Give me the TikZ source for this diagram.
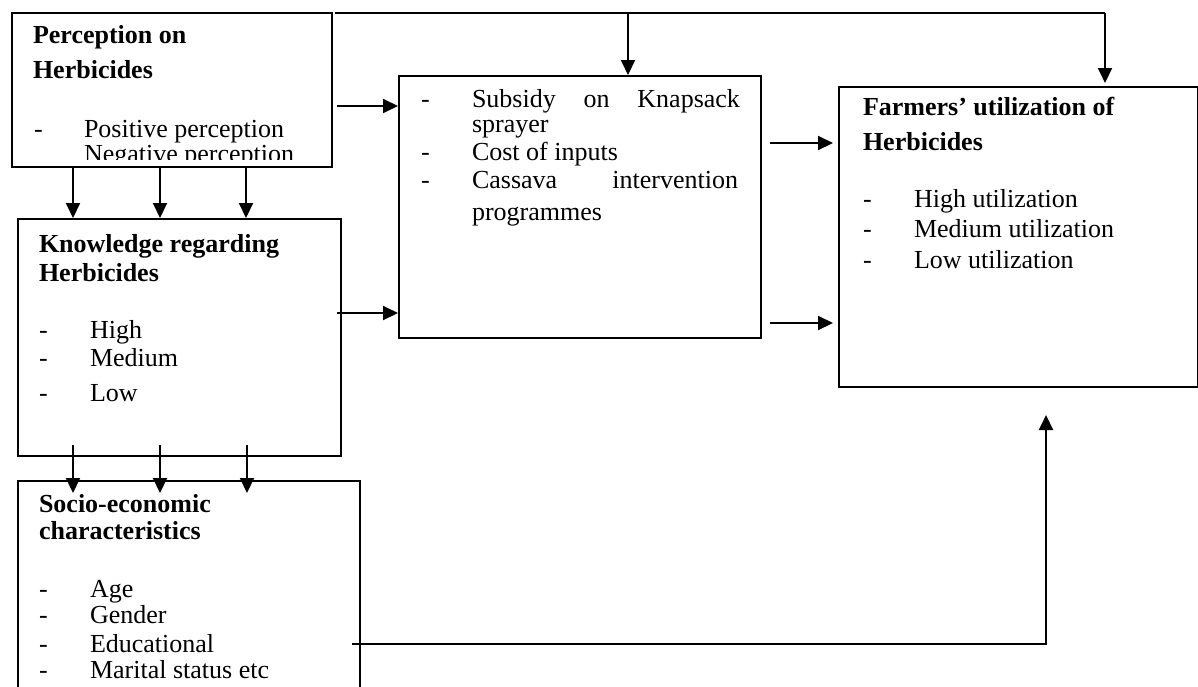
\documentclass[tikz,border=0pt]{standalone}
\usepackage{fontspec}
\setmainfont{Liberation Serif}
\usepackage{tikz}
\usetikzlibrary{arrows.meta,positioning,calc}

\begin{document}
\begin{tikzpicture}[
  x=1pt, y=-1pt,
  font=\fontsize{26}{26}\selectfont,
  >={Triangle[length=15pt,width=14pt]},
  line width=2pt,
  box/.style  = {draw, line width=2pt, inner sep=0pt, anchor=north west},
  hd/.style   = {anchor=base west, inner sep=0pt, font=\fontsize{26}{26}\selectfont\bfseries},
  txt/.style  = {anchor=base west, inner sep=0pt},
  dsh/.style  = {anchor=base west, inner sep=0pt}
]
\useasboundingbox (0,0) rectangle (1198,686);
\clip (0,0) rectangle (1198,686);

% boxes
\node[box, minimum width=320pt, minimum height=154pt] (perc)  at (11,12)  {};
\node[box, minimum width=323pt, minimum height=237pt] (know)  at (17,218) {};
\node[box, minimum width=342pt, minimum height=260pt] (socio) at (17,480) {};
\node[box, minimum width=362pt, minimum height=262pt] (inp)   at (398,75) {};
\node[box, minimum width=359pt, minimum height=300pt] (util)  at (838,86) {};

% perception text (cut off at the bottom)
\begin{scope}
  \clip (perc.north west) rectangle ([yshift=9pt]perc.south east);
  \node[hd] (percH1) at (32,43) {Perception on};
  \node[hd] (percH2) at (32,78) {Herbicides};
  \node[dsh] (percD1) at (33,137) {-};
  \node[txt] (percT1) at (83,137) {Positive perception};
  \node[txt] (percT2) at (83,162) {Negative perception};
\end{scope}

% knowledge text
\node[hd] (knowH1) at (38,252) {Knowledge regarding};
\node[hd] (knowH2) at (38,281) {Herbicides};
\node[dsh] (knowD1) at (38,338) {-};
\node[txt] (knowT1) at (89,338) {High};
\node[dsh] (knowD2) at (38,366) {-};
\node[txt] (knowT2) at (89,366) {Medium};
\node[dsh] (knowD3) at (38,401) {-};
\node[txt] (knowT3) at (89,401) {Low};

% socio-economic text
\node[hd] (socH1) at (38,512) {Socio-economic};
\node[hd] (socH2) at (38,539) {characteristics};
\node[dsh] (socD1) at (38,597) {-};
\node[txt] (socT1) at (89,597) {Age};
\node[dsh] (socD2) at (38,623) {-};
\node[txt] (socT2) at (89,623) {Gender};
\node[dsh] (socD3) at (38,652) {-};
\node[txt] (socT3) at (89,652) {Educational};
\node[dsh] (socD4) at (38,678) {-};
\node[txt] (socT4) at (89,678) {Marital status etc};

% input factors text
\node[dsh] (inpD1) at (420,107) {-};
\node[txt] (inpT1) at (471,107) {\makebox[268pt][s]{Subsidy on Knapsack}};
\node[txt] (inpT1b) at (471,132) {sprayer};
\node[dsh] (inpD2) at (420,160) {-};
\node[txt] (inpT2) at (471,160) {Cost of inputs};
\node[dsh] (inpD3) at (420,188) {-};
\node[txt] (inpT3) at (471,188) {\makebox[266pt][s]{Cassava intervention}};
\node[txt] (inpT3b) at (471,220) {programmes};

% utilization text
\node[hd] (utilH1) at (862,115) {Farmers’ utilization of};
\node[hd] (utilH2) at (862,150) {Herbicides};
\node[dsh] (utilD1) at (862,207) {-};
\node[txt] (utilT1) at (913,207) {High utilization};
\node[dsh] (utilD2) at (862,237) {-};
\node[txt] (utilT2) at (913,237) {Medium utilization};
\node[dsh] (utilD3) at (862,268) {-};
\node[txt] (utilT3) at (913,268) {Low utilization};

% connectors
\coordinate (topL) at (335,13);
\coordinate (topM) at (628,13);
\coordinate (topR) at (1105,13);
\coordinate (socioIn) at (1046,415);
\draw (topL) -- (topR);
\draw[->] (topM) -- (topM |- inp.north);
\draw[->, shorten >=3pt] (topR) -- (topR |- util.north);

\foreach \x in {73,160,246}
  \draw[->] (perc.south -| \x,0) -- (know.north -| \x,0);
\foreach \x in {73,160,247}
  \draw[->] (know.south -| \x,0) ++(0,-12) -- ++(0,48);

\draw[->] (perc.east |- 0,106) ++(4,0) -- (inp.west |- 0,106);
\draw[->] (know.east |- 0,313) ++(-5,0) -- (inp.west |- 0,313);
\draw[->, shorten >=5pt] (inp.east |- 0,143) ++(8,0) -- (util.west |- 0,143);
\draw[->, shorten >=5pt] (inp.east |- 0,323) ++(8,0) -- (util.west |- 0,323);
\draw[->] (socio.east |- 0,644) ++(-9,0) -| (socioIn);
\end{tikzpicture}
\end{document}
